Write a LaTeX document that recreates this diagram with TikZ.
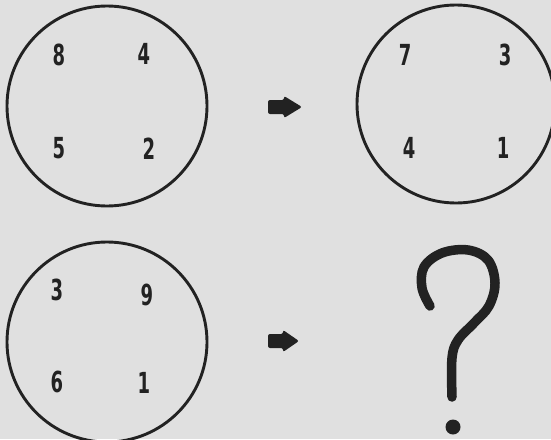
\documentclass[tikz,border=0pt]{standalone}
\usepackage{fontspec}
\setmainfont{DejaVu Sans}
\definecolor{bg}{HTML}{E0E0E0}
\definecolor{ink}{HTML}{222222}
\newcommand{\hd}[1]{\scalebox{0.62}[1]{\bfseries #1}}
\begin{document}
\begin{tikzpicture}[x=1pt,y=-1pt,
  ring/.style={circle, draw=ink, line width=2.9pt, minimum size=#1, inner sep=0pt},
  digit/.style={font=\fontsize{29}{29}\selectfont, text=ink, inner sep=0pt},
  qmark/.style={draw=ink, line width=9.5pt, line cap=round},
]
\useasboundingbox (0,0) rectangle (551,439);
\clip (0,0) rectangle (551,439);
\fill[bg] (0,0) rectangle (551,439);

% top-left circle
\node[ring=200pt] (c1) at (107,106) {};
\node[digit] (c1a) at (59,55) {\hd{8}};
\node[digit] (c1b) at (144,54) {\hd{4}};
\node[digit] (c1c) at (59,148) {\hd{5}};
\node[digit] (c1d) at (149,149) {\hd{2}};

% top-right circle
\node[ring=198pt] (c2) at (456,104) {};
\node[digit] (c2a) at (405,55) {\hd{7}};
\node[digit] (c2b) at (505,55) {\hd{3}};
\node[digit] (c2c) at (409,148) {\hd{4}};
\node[digit] (c2d) at (503,148) {\hd{1}};

% bottom-left circle
\node[ring=200pt] (c3) at (107,342) {};
\node[digit] (c3a) at (57,290) {\hd{3}};
\node[digit] (c3b) at (147,295) {\hd{9}};
\node[digit] (c3c) at (57,382) {\hd{6}};
\node[digit] (c3d) at (144,383) {\hd{1}};

% block arrows
\coordinate (a1) at (268,107);
\fill[ink, rounded corners=2pt] (a1) ++(0,-7) -- ++(16,0) -- ++(0,-4) -- ++(18,11) -- ++(-18,11) -- ++(0,-4) -- ++(-16,0) -- cycle;
\coordinate (a2) at (268,341);
\fill[ink, rounded corners=2pt] (a2) ++(0,-7) -- ++(15,0) -- ++(0,-4) -- ++(16,11) -- ++(-16,11) -- ++(0,-4) -- ++(-15,0) -- cycle;

% question mark
\draw[qmark] plot[smooth, tension=0.6] coordinates {(430,306) (422,288) (424,267) (442,253) (468,250) (488,260) (495,283) (489,306) (474,323) (458,340) (452,358) (452,397)};
\fill[ink] (453,427) circle (7.5pt);
\end{tikzpicture}
\end{document}
